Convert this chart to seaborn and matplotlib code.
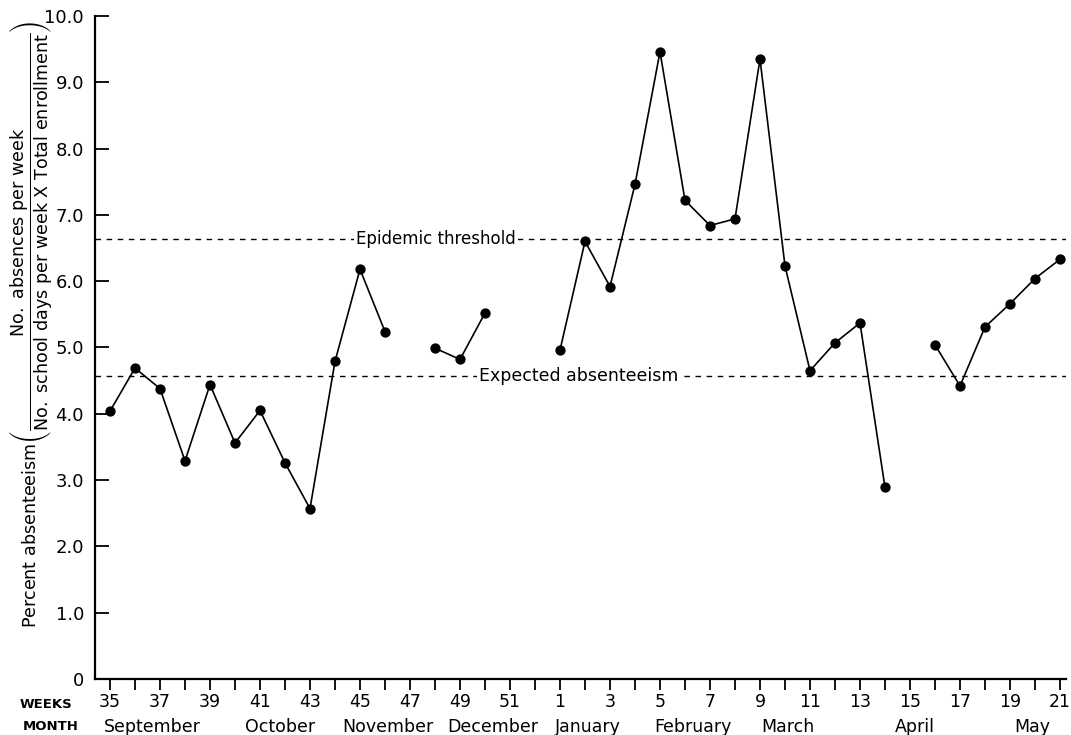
import numpy as np
import pandas as pd
import matplotlib
matplotlib.use("Agg")
import matplotlib.pyplot as plt
import matplotlib.lines as mlines
import matplotlib.transforms as mtransforms
import seaborn as sns

# ---- data ----
weeks = [35, 36, 37, 38, 39, 40, 41, 42, 43, 44, 45, 46, 47, 48, 49, 50, 51, 52,
         1, 2, 3, 4, 5, 6, 7, 8, 9, 10, 11, 12, 13, 14, 15, 16, 17, 18, 19, 20, 21]
absenteeism = [4.04, 4.69, 4.38, 3.29, 4.44, 3.56, 4.05, 3.26, 2.57, 4.79, 6.18, 5.24, None,
               4.99, 4.82, 5.52, None, None,
               4.96, 6.60, 5.92, 7.46, 9.46, 7.22, 6.84, 6.94, 9.35, 6.23, 4.65, 5.07, 5.37, 2.89, None,
               5.04, 4.42, 5.31, 5.66, 6.04, 6.33]
week_labels = [str(w) if w % 2 == 1 else "" for w in weeks]
months = ["September", "October", "November", "December", "January",
          "February", "March", "April", "May"]
month_pos = [1.7, 6.8, 11.1, 15.3, 19.1, 23.3, 27.1, 32.2, 36.9]
epidemic_threshold = 6.64
expected_absenteeism = 4.57
y_ticks = [0, 1, 2, 3, 4, 5, 6, 7, 8, 9, 10]
y_tick_labels = ["0", "1.0", "2.0", "3.0", "4.0", "5.0", "6.0", "7.0", "8.0", "9.0", "10.0"]

# ---- build table with segment ids (gaps break the line) ----
pos = np.arange(len(weeks))
seg, s, prev_nan = [], 0, False
for v in absenteeism:
    if v is None:
        prev_nan = True
        seg.append(-1)
    else:
        if prev_nan:
            s += 1
        prev_nan = False
        seg.append(s)
df = pd.DataFrame({"pos": pos, "week": weeks,
                   "value": [np.nan if v is None else v for v in absenteeism],
                   "segment": seg})
df = df.dropna()

sns.set_style("ticks")
plt.rcParams["font.family"] = ["DejaVu Sans"]
plt.rcParams["mathtext.fontset"] = "dejavusans"
plt.rcParams["text.color"] = "black"
plt.rcParams["xtick.color"] = "black"
plt.rcParams["ytick.color"] = "black"
plt.rcParams["axes.edgecolor"] = "black"
plt.rcParams["ytick.direction"] = "in"
plt.rcParams["xtick.direction"] = "out"

fig = plt.figure(figsize=(10.71, 7.35), dpi=100)
ax = fig.add_axes([95 / 1071, 56 / 735, (1066 - 95) / 1071, (679 - 16) / 735])

sns.lineplot(data=df, x="pos", y="value", units="segment", estimator=None,
             color="black", linewidth=1.2, ax=ax, legend=False)
sns.scatterplot(data=df, x="pos", y="value", color="black", s=55,
                edgecolor="black", linewidth=0, ax=ax, legend=False, zorder=5)

ax.axhline(epidemic_threshold, color="black", linestyle=(0, (4, 4)), linewidth=1.0, zorder=1)
ax.axhline(expected_absenteeism, color="black", linestyle=(0, (4, 4)), linewidth=1.0, zorder=1)
ax.text(13.05, epidemic_threshold, "Epidemic threshold", ha="center", va="center",
        fontsize=12, bbox=dict(facecolor="white", edgecolor="none", pad=1.5), zorder=3)
ax.text(18.75, expected_absenteeism, "Expected absenteeism", ha="center", va="center",
        fontsize=12.5, bbox=dict(facecolor="white", edgecolor="none", pad=1.5), zorder=3)

ax.set_xlim(-0.6, 38.24)
ax.set_ylim(0, 10)
ax.set_yticks(y_ticks)
ax.set_yticklabels(y_tick_labels, fontsize=13)
ax.set_xticks(pos)
ax.set_xticklabels(week_labels, fontsize=12.5)
ax.yaxis.set_tick_params(which="both", direction="in", length=10, width=1.3, pad=8,
                         left=True, right=False)
ax.xaxis.set_tick_params(direction="out", length=8, width=1.3, pad=2)
for t in ax.yaxis.get_major_ticks():
    t.tick1line.set_marker(mlines.TICKRIGHT)
for sp in ["top", "right"]:
    ax.spines[sp].set_visible(False)
for sp in ["left", "bottom"]:
    ax.spines[sp].set_linewidth(1.6)
ax.set_xlabel("")
ax.set_ylabel("")

trans = mtransforms.blended_transform_factory(ax.transData, fig.transFigure)
for m, p in zip(months, month_pos):
    ax.text(p, 1 - 727 / 735, m, transform=trans, ha="center", va="center", fontsize=12.5)

fig.text(46 / 1071, 1 - 705 / 735, "WEEKS", ha="center", va="center", fontsize=9.5,
         fontweight="bold")
fig.text(51 / 1071, 1 - 727 / 735, "MONTH", ha="center", va="center", fontsize=9.5,
         fontweight="bold")

ylabel = (r"Percent absenteeism$\left(\dfrac{\mathrm{No.\ absences\ per\ week}}"
          r"{\mathrm{No.\ school\ days\ per\ week\ X\ Total\ enrollment}}\right)$")
fig.text(31 / 1071, 1 - 324 / 735, ylabel, rotation=90, ha="center", va="center", fontsize=12.6)

fig.savefig("out.png", dpi=100)
